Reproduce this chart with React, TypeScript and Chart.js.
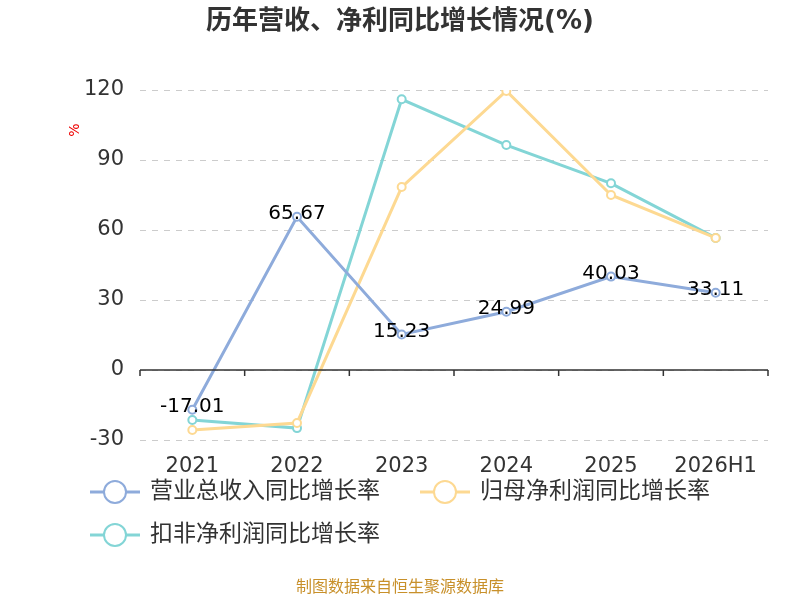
import React, { useEffect, useRef } from "react";
import { Chart, registerables } from "chart.js";
Chart.register(...registerables);

const categories = ["2021", "2022", "2023", "2024", "2025", "2026H1"];
const revenueGrowth = [-17.01, 65.67, 15.23, 24.99, 40.03, 33.11];
const netProfitGrowth = [-25.7, -22.7, 78.4, 119.6, 75, 56.6];
const deductedProfitGrowth = [-21.4, -24.9, 116, 96.4, 80, 56.6];
const seriesNames = ["营业总收入同比增长率", "归母净利润同比增长率", "扣非净利润同比增长率"];
const colors = ["#8eabdb", "#fdd992", "#83d5d6"];
const FONT = "'DejaVu Sans', 'Noto Sans CJK SC', sans-serif";

export default function App() {
  const ref = useRef<HTMLCanvasElement>(null);
  useEffect(() => {
    document.body.style.margin = "0";
    const overlay = {
      id: "overlay",
      afterDatasetsDraw(chart: any) {
        const ctx = chart.ctx;
        const y = chart.scales.y;
        const y0 = y.getPixelForValue(0);
        ctx.save();
        ctx.strokeStyle = "#333";
        ctx.lineWidth = 1.5;
        ctx.beginPath();
        ctx.moveTo(chart.chartArea.left, y0);
        ctx.lineTo(chart.chartArea.right, y0);
        const band = (chart.chartArea.right - chart.chartArea.left) / categories.length;
        for (let i = 0; i <= categories.length; i++) {
          const px = chart.chartArea.left + i * band;
          ctx.moveTo(px, y0);
          ctx.lineTo(px, y0 + 6);
        }
        ctx.stroke();
        ctx.fillStyle = "#000";
        ctx.font = `20px ${FONT}`;
        ctx.textAlign = "center";
        ctx.textBaseline = "middle";
        const meta = chart.getDatasetMeta(0);
        meta.data.forEach((p: any, i: number) => {
          ctx.fillText(revenueGrowth[i].toFixed(2), p.x, p.y - 3);
        });
        const items = [
          { x: 90, y: 492 },
          { x: 420, y: 492 },
          { x: 90, y: 535 },
        ];
        items.forEach((it, i) => {
          ctx.strokeStyle = colors[i];
          ctx.lineWidth = 3;
          ctx.beginPath();
          ctx.moveTo(it.x, it.y);
          ctx.lineTo(it.x + 50, it.y);
          ctx.stroke();
          ctx.fillStyle = "#fff";
          ctx.lineWidth = 2;
          ctx.beginPath();
          ctx.arc(it.x + 25, it.y, 11, 0, Math.PI * 2);
          ctx.fill();
          ctx.stroke();
          ctx.fillStyle = "#333";
          ctx.textAlign = "left";
          ctx.font = `23px ${FONT}`;
          ctx.fillText(seriesNames[i], it.x + 60, it.y);
        });
        ctx.textAlign = "center";
        ctx.fillStyle = "#333";
        ctx.font = `bold 26px ${FONT}`;
        ctx.fillText("历年营收、净利同比增长情况(%)", 400, 22);
        ctx.fillStyle = "#c8902a";
        ctx.font = `16px ${FONT}`;
        ctx.fillText("制图数据来自恒生聚源数据库", 400, 588);
        ctx.save();
        ctx.translate(75, 130);
        ctx.rotate(-Math.PI / 2);
        ctx.fillStyle = "#e00";
        ctx.font = `14px ${FONT}`;
        ctx.fillText("%", 0, 0);
        ctx.restore();
        ctx.restore();
      },
    };
    const mk = (label: string, data: number[], c: string) => ({
      label, data, borderColor: c, backgroundColor: "#fff",
      borderWidth: 3, pointRadius: 4, pointBorderWidth: 2,
      pointBackgroundColor: "#fff", pointBorderColor: c, tension: 0,
    });
    const chart = new Chart(ref.current!, {
      type: "line",
      data: {
        labels: categories,
        datasets: [
          mk(seriesNames[0], revenueGrowth, colors[0]),
          mk(seriesNames[1], netProfitGrowth, colors[1]),
          mk(seriesNames[2], deductedProfitGrowth, colors[2]),
        ],
      },
      options: {
        animation: false,
        responsive: false,
        layout: { padding: { left: 0, right: 32, top: 90, bottom: 0 } },
        plugins: { legend: { display: false }, tooltip: { enabled: false } },
        scales: {
          x: {
            offset: true,
            grid: { display: false },
            border: { display: false },
            ticks: { color: "#333", font: { size: 21, family: FONT }, padding: 6 },
            afterFit: (s: any) => { s.height = 160; },
          },
          y: {
            min: -30, max: 120,
            ticks: { stepSize: 30, color: "#333", font: { size: 21, family: FONT }, padding: 16 },
            grid: { color: "#ccc", drawTicks: false, lineWidth: 1 } as any,
            border: { display: false, dash: [6, 6] },
            afterFit: (s: any) => { s.width = 140; },
          },
        },
      },
      plugins: [overlay],
    });
    return () => chart.destroy();
  }, []);
  return <canvas ref={ref} width={800} height={600} />;
}
